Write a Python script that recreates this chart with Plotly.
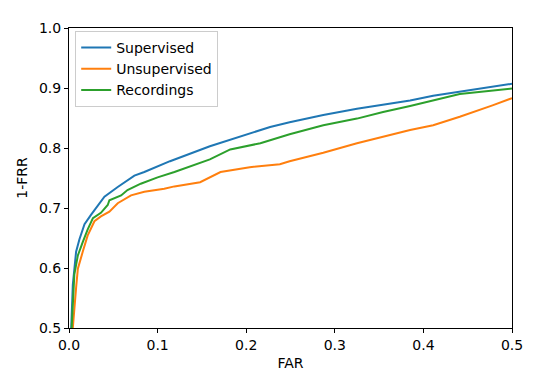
import plotly.graph_objects as go

# ROC-style curves (FAR vs 1-FRR)
sup_far = [0.0, 0.0025, 0.0043, 0.008, 0.0118, 0.0175, 0.025, 0.0325, 0.040, 0.055, 0.0738, 0.085, 0.1056,
           0.114, 0.159, 0.193, 0.227, 0.249, 0.287, 0.325, 0.362, 0.385, 0.411, 0.448, 0.5]
sup_tpr = [0.48, 0.50, 0.572, 0.627, 0.648, 0.673, 0.689, 0.705, 0.719, 0.735, 0.754, 0.760, 0.773,
           0.778, 0.803, 0.819, 0.835, 0.843, 0.855, 0.8655, 0.874, 0.879, 0.887, 0.895, 0.907]

unsup_far = [0.0035, 0.0043, 0.008, 0.010, 0.0155, 0.021, 0.0287, 0.036, 0.0456, 0.055, 0.070, 0.085, 0.1075,
             0.119, 0.148, 0.171, 0.204, 0.238, 0.249, 0.287, 0.325, 0.362, 0.385, 0.411, 0.441, 0.478, 0.5]
unsup_tpr = [0.48, 0.50, 0.567, 0.599, 0.627, 0.654, 0.678, 0.686, 0.694, 0.708, 0.721, 0.727, 0.732,
             0.736, 0.743, 0.760, 0.768, 0.773, 0.778, 0.792, 0.808, 0.822, 0.830, 0.838, 0.852, 0.871, 0.883]

rec_far = [0.002, 0.003, 0.006, 0.010, 0.0155, 0.021, 0.027, 0.036, 0.0437, 0.0456, 0.0588, 0.066, 0.081, 0.100,
           0.119, 0.159, 0.182, 0.216, 0.249, 0.287, 0.325, 0.3545, 0.385, 0.411, 0.441, 0.5]
rec_tpr = [0.48, 0.50, 0.589, 0.621, 0.643, 0.664, 0.683, 0.692, 0.705, 0.713, 0.721, 0.730, 0.7405, 0.751,
           0.760, 0.781, 0.7976, 0.808, 0.823, 0.838, 0.849, 0.860, 0.870, 0.879, 0.890, 0.899]

fig = go.Figure()
fig.add_trace(go.Scatter(x=sup_far, y=sup_tpr, mode="lines", name="Supervised",
                         line=dict(color="#1f77b4", width=2)))
fig.add_trace(go.Scatter(x=unsup_far, y=unsup_tpr, mode="lines", name="Unsupervised",
                         line=dict(color="#ff7f0e", width=2)))
fig.add_trace(go.Scatter(x=rec_far, y=rec_tpr, mode="lines", name="Recordings",
                         line=dict(color="#2ca02c", width=2)))

axis_style = dict(showline=True, linecolor="black", linewidth=1, mirror=True,
                  ticks="outside", ticklen=4, tickwidth=1, tickcolor="black",
                  showgrid=False, zeroline=False, tickfont=dict(size=14, color="black"))

fig.update_xaxes(range=[0, 0.5], tickvals=[0, 0.1, 0.2, 0.3, 0.4, 0.5], tickformat=".1f",
                 title=dict(text="FAR", font=dict(size=14, color="black"), standoff=6), **axis_style)
fig.update_yaxes(range=[0.5, 1.0], tickvals=[0.5, 0.6, 0.7, 0.8, 0.9, 1.0], tickformat=".1f",
                 title=dict(text="1-FRR", font=dict(size=14, color="black"), standoff=8), **axis_style)

# the page adds an 8px body margin, so the figure is a bit smaller than the window
fig.update_layout(
    width=532, height=381,
    margin=dict(l=60.5, r=27.5, t=12.7, b=61.3),
    paper_bgcolor="white", plot_bgcolor="white",
    font=dict(family="DejaVu Sans", size=14, color="black"),
    legend=dict(x=0.014, y=0.99, xanchor="left", yanchor="top",
                bgcolor="rgba(255,255,255,0.8)", bordercolor="#cccccc", borderwidth=1,
                font=dict(size=14), tracegroupgap=0),
)

fig.write_html("out.html")
